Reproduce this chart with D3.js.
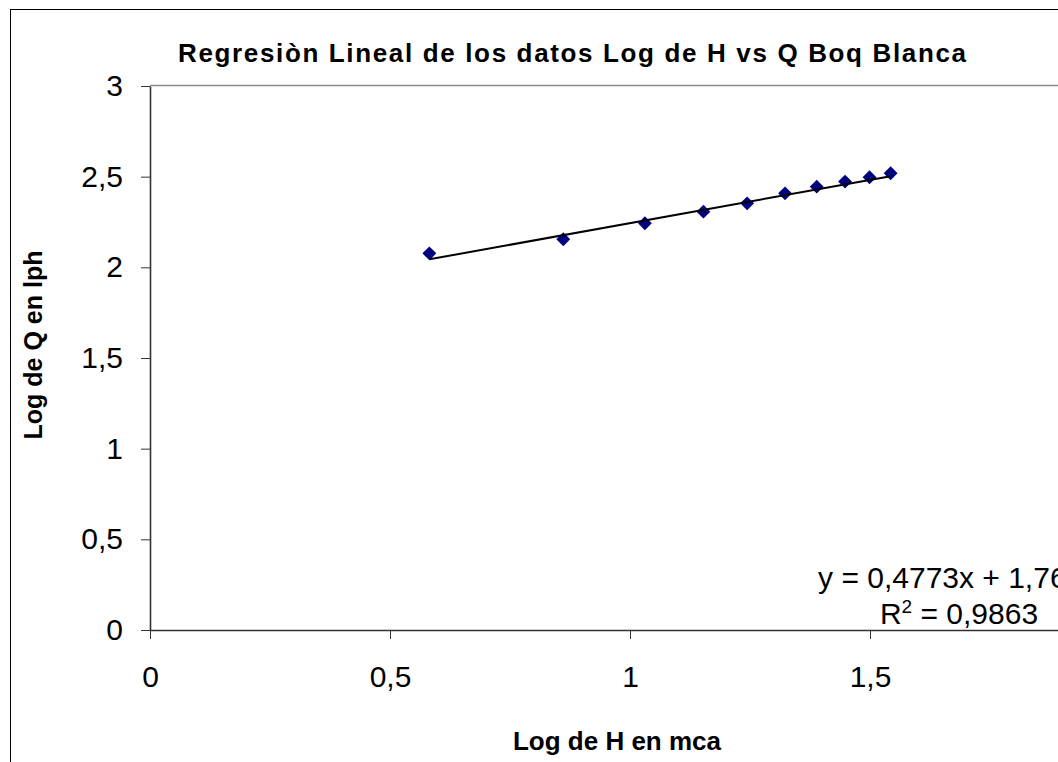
<!DOCTYPE html>
<html>
<head>
<meta charset="utf-8">
<script src="https://cdn.jsdelivr.net/npm/d3@7"></script>
<style>
body { margin: 0; background: #fff; }
svg { display: block; font-family: "Liberation Sans", Arial, sans-serif; }
</style>
</head>
<body>
<svg id="chart" width="1058" height="762"></svg>
<script>
// Log of H (mca) and log of Q (lph)
var logH = [0.582, 0.861, 1.031, 1.153, 1.244, 1.323, 1.389, 1.448, 1.499, 1.543];
var logQ = [2.077, 2.155, 2.243, 2.307, 2.353, 2.408, 2.445, 2.473, 2.497, 2.519];

// the axis runs to 2 but that end is off the picture
var xTicks = [0, 0.5, 1, 1.5];
var yTicks = [0, 0.5, 1, 1.5, 2, 2.5, 3];

// trendline shown on the chart
var trendSlope = 0.4773;
var trendIntercept = 1.7664;
var eqLabel = "y = 0,4773x + 1,7664";
var r2Value = "0,9863";

var titleText = "Regresiòn Lineal de los datos Log de H vs Q Boq Blanca";
var xTitle = "Log de H en mca";
var yTitle = "Log de Q en lph";

var svg = d3.select("#chart");

var x = d3.scaleLinear().domain([0, 2]).range([150, 1110]);
var y = d3.scaleLinear().domain([0, 3]).range([630, 86]);

function commaFmt(v) {
    return String(v).replace(".", ",");
}

/* chart frame */
svg.append("rect")
    .attr("x", 10.5).attr("y", 9.5)
    .attr("width", 1100).attr("height", 800)
    .attr("fill", "#fff")
    .attr("stroke", "#000");

/* plot area top border */
svg.append("line")
    .attr("x1", x(0)).attr("x2", x(2))
    .attr("y1", y(3) - 0.5).attr("y2", y(3) - 0.5)
    .attr("stroke", "#8c8c8c").attr("stroke-width", 1.5);

/* axes */
var xAxis = d3.axisBottom(x)
    .tickValues(xTicks)
    .tickFormat(commaFmt)
    .tickSize(9)
    .tickSizeOuter(0)
    .tickPadding(27);

var yAxis = d3.axisLeft(y)
    .tickValues(yTicks)
    .tickFormat(commaFmt)
    .tickSize(9)
    .tickSizeOuter(0)
    .tickPadding(18);

var gx = svg.append("g")
    .attr("transform", "translate(0," + y(0) + ")")
    .call(xAxis);

var gy = svg.append("g")
    .attr("transform", "translate(" + x(0) + ",0)")
    .call(yAxis);

[gx, gy].forEach(function (g) {
    g.selectAll("text")
        .attr("fill", "#000")
        .style("font-size", "30px")
        .style("font-family", "'Liberation Sans', Arial, sans-serif");
    g.selectAll(".tick line").attr("stroke", "#333");
    g.select(".domain").attr("stroke", "#333").attr("stroke-width", 1.6);
});

/* data points */
var points = logH.map(function (h, i) { return [h, logQ[i]]; });

svg.append("g")
    .selectAll("path")
    .data(points)
    .enter()
    .append("path")
    .attr("d", d3.symbol(d3.symbolSquare, 96))
    .attr("transform", function (d) {
        return "translate(" + x(d[0]) + "," + y(d[1]) + ") rotate(45)";
    })
    .attr("fill", "#000080");

/* linear trendline */
var xExt = d3.extent(logH);
var trendLine = d3.line()
    .x(function (d) { return x(d); })
    .y(function (d) { return y(trendSlope * d + trendIntercept); });

svg.append("path")
    .datum(xExt)
    .attr("d", trendLine)
    .attr("fill", "none")
    .attr("stroke", "#000")
    .attr("stroke-width", 2);

/* equation label (runs off the right edge like the original) */
var eq = svg.append("g").style("font-size", "30px").attr("fill", "#000");
eq.append("text")
    .attr("x", 959).attr("y", 588)
    .attr("text-anchor", "middle")
    .text(eqLabel);
var r2 = eq.append("text")
    .attr("x", 959).attr("y", 624)
    .attr("text-anchor", "middle");
r2.append("tspan").text("R");
r2.append("tspan").attr("dy", -11).style("font-size", "19px").text("2");
r2.append("tspan").attr("dy", 11).text(" = " + r2Value);

/* titles */
svg.append("text")
    .attr("x", 572).attr("y", 62)
    .attr("text-anchor", "middle")
    .attr("textLength", 788)
    .attr("lengthAdjust", "spacing")
    .style("font-size", "26px")
    .style("font-weight", "bold")
    .text(titleText);

svg.append("text")
    .attr("x", 617).attr("y", 750)
    .attr("text-anchor", "middle")
    .style("font-size", "26px")
    .style("font-weight", "bold")
    .text(xTitle);

svg.append("text")
    .attr("transform", "translate(42,345) rotate(-90)")
    .attr("text-anchor", "middle")
    .style("font-size", "25px")
    .style("font-weight", "bold")
    .text(yTitle);
</script>
</body>
</html>
